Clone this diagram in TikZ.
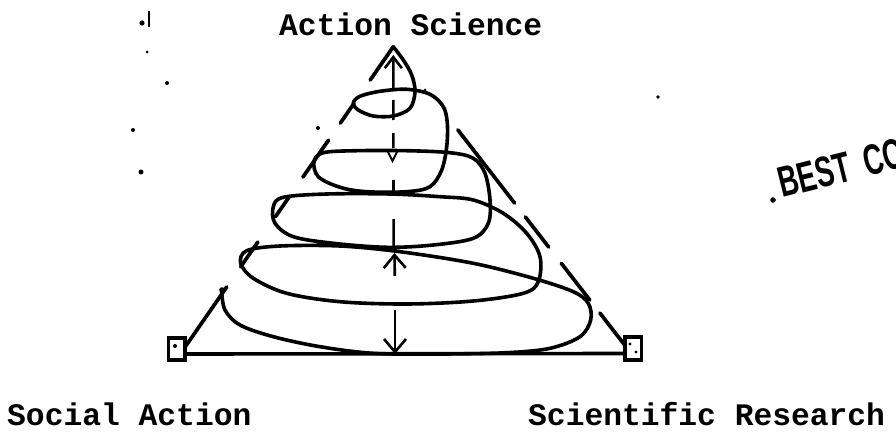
\documentclass[tikz,border=0pt]{standalone}
\usepackage{fontspec}
\usepackage{graphicx}
\newfontfamily\typew{Liberation Mono}
\newfontfamily\stampf{Liberation Sans}
\usetikzlibrary{arrows.meta,calc}
\begin{document}
\begin{tikzpicture}[x=1pt,y=-1pt,
  spiral/.style={line width=3.6pt, line cap=round, line join=round},
  tri/.style={line width=3.7pt, line cap=round},
  vline/.style={line width=2.6pt},
  barb/.style={-{Straight Barb[length=13pt,width=22pt]}},
  smallbarb/.style={-{Straight Barb[length=11pt,width=17pt]}},
  lbl/.style={font={\typew\bfseries\fontsize{31.3}{36}\selectfont}, anchor=base west, inner sep=0pt},
  cornerbox/.style={draw, line width=3.8pt, minimum width=16.5pt, minimum height=22.5pt, inner sep=0pt, fill=white},
]
\useasboundingbox (0,0) rectangle (896,433);
\fill[white] (0,0) rectangle (896,433);

% key points
\coordinate (apex) at (393.3,46.7);
\coordinate (cL) at (183,350);
\coordinate (cR) at (627,348);

% labels
\node[lbl] (top) at (279,36) {Action Science};
\node[lbl] (sa) at (7,425) {Social Action};
\node[lbl] (sr) at (528,425) {Scientific Research};

% triangle sides (long dashes)
\foreach \a/\b in {0/0.11, 0.186/0.252, 0.308/0.43, 0.495/0.561, 0.644/0.726, 0.792/1}
  \draw[tri] ($(apex)!\a!(cL)$) -- ($(apex)!\b!(cL)$);
\foreach \a/\b in {0.276/0.519, 0.565/0.665, 0.719/0.841, 0.884/1}
  \draw[tri] ($(apex)!\a!(cR)$) -- ($(apex)!\b!(cR)$);

% corner boxes and base
\node[cornerbox] (boxL) at (176.7,349) {};
\node[cornerbox] (boxR) at (633.3,348.5) {};
\fill (175,346) circle (2pt);
\fill (630,344) circle (1.6pt) (636,352) circle (1.6pt);
\draw[line width=3.6pt] ([yshift=-5pt]boxL.east) -- ([yshift=-5pt]boxR.west);

% spiral
\draw[spiral] plot[smooth, tension=0.55] coordinates {
 (393.3,46.7) (403.3,60) (411.7,75) (415,91.7)
 (410,108.3) (393.3,116) (373.3,116) (358.3,110)
 (353.3,103) (360,96.3)
 (380,91.3) (406.7,89.3) (430,94.3) (443.3,106.7)
 (447.3,123.3) (446.7,146.7) (441.7,170) (430,186.7)
 (406.7,191.7) (366.7,191.7) (340,187.3)
 (318.3,176.7) (314,161.7) (323.3,152.7)
 (356.7,150.7) (406.7,150.7) (450,152.7) (473.3,158.3)
 (485,173.3) (490,200) (488.3,223.3) (473.3,238.3)
 (433.3,245) (386.7,247.3) (333.3,243.3) (293.3,236.7)
 (275,223.3) (273.3,206.7) (283.3,197.3)
 (326.7,194) (390,194) (440,196.7) (473.3,200)
 (503.3,213.3) (526.7,233.3) (540,256.7) (538.3,281.7)
 (523.3,293.3) (473.3,301) (406.7,304) (340,301.7) (286.7,293.3) (253.3,278.3)
 (240.7,263.3) (246.7,250.7)
 (280,246) (340,246) (400,251.7) (473.3,263.3) (533.3,278.3) (573.3,291.7)
 (588.3,303.3) (590.7,320) (580,336.7)
 (550,348.3) (506.7,352.7) (440,354) (373.3,353.3) (320,346.7) (273.3,336.7) (240,325) (225,310)
 (221.7,291.7)
};
\fill (222,290) circle (2.8pt);

% vertical dashed axis with arrows
\coordinate (vtop) at (393.3,55);
\coordinate (vmid) at (393.6,249);
\coordinate (uptip) at (394.5,253);
\coordinate (upbase) at (394.8,276);
\coordinate (dnbase) at (395,310);
\coordinate (dntip) at (395,354);
\draw[vline, smallbarb, dash pattern=on 30pt off 26pt on 13pt off 32pt on 15pt off 13pt on 20pt off 12pt on 40pt off 0pt] (vmid) -- (vtop);
\draw[vline, barb] (upbase) -- (uptip);
\draw[vline, barb] (dnbase) -- (dntip);

% small tick on the axis
\draw[line width=2pt, line cap=round] (388,152) -- (392.5,161) -- (397,152);

% stamp
\fill (773,200) circle (2.8pt);
\node[rotate=14, anchor=base west, inner sep=0pt, font={\stampf\bfseries\fontsize{43}{46}\selectfont}] (stamp) at (782,198) {\scalebox{0.64}[1]{BEST\hspace{22pt}CO}};

% specks
\fill (142,23) circle (2.6pt);
\draw[line width=2pt] (149,11) -- (149,27);
\fill (147,52) circle (1.5pt);
\fill (167,83) circle (2pt);
\fill (133,130) circle (2pt);
\fill (141,172) circle (2.5pt);
\fill (658,97) circle (1.8pt);
\fill (425,90) circle (1.5pt);
\fill (318,128) circle (2pt);
\end{tikzpicture}
\end{document}
